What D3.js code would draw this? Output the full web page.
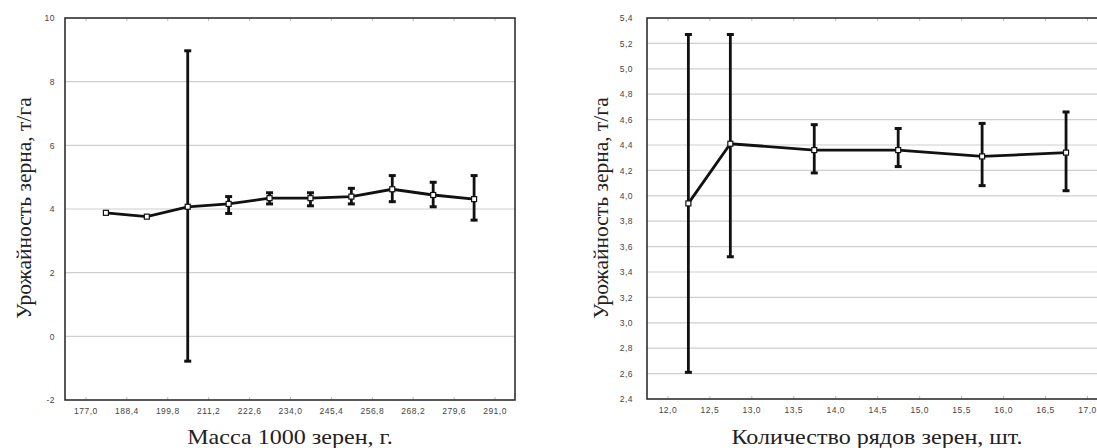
<!DOCTYPE html>
<html><head><meta charset="utf-8">
<script src="https://cdn.jsdelivr.net/npm/d3@7"></script>
<style>body{margin:0;background:#fff}svg{display:block}</style>
</head><body>
<svg id="c" width="1097" height="448"></svg>
<script>
// Chart 1: mass of 1000 grains
const massX = [182.7,194.1,205.5,216.9,228.3,239.7,251.1,262.5,273.9,285.3];
const massMean = [3.88,3.76,4.07,4.16,4.34,4.34,4.39,4.62,4.44,4.31];
const massHi = [null,null,8.97,4.39,4.51,4.51,4.65,5.05,4.84,5.05];
const massLo = [null,null,-0.78,3.86,4.16,4.10,4.16,4.23,4.07,3.65];
const massXTicks = [177.0,188.4,199.8,211.2,222.6,234.0,245.4,256.8,268.2,279.6,291.0];
const massYTicks = [-2,0,2,4,6,8,10];

// Chart 2: number of grain rows
const rowsX = [12.25,12.75,13.75,14.75,15.75,16.75];
const rowsMean = [3.94,4.41,4.36,4.36,4.31,4.34];
const rowsHi = [5.27,5.27,4.56,4.53,4.57,4.66];
const rowsLo = [2.61,3.52,4.18,4.23,4.08,4.04];
const rowsXTicks = [12.0,12.5,13.0,13.5,14.0,14.5,15.0,15.5,16.0,16.5,17.0];
const rowsYTicks = [2.4,2.6,2.8,3.0,3.2,3.4,3.6,3.8,4.0,4.2,4.4,4.6,4.8,5.0,5.2,5.4];

const yTitle = "Урожайность зерна, т/га";
const svg = d3.select("#c");
const fmt1 = d => d.toFixed(1).replace(".", ",");

function panel(o){
  const g = svg.append("g");
  const x = d3.scaleLinear().domain(o.xDomain).range([o.left, o.right]);
  const y = d3.scaleLinear().domain(o.yDomain).range([o.bottom, o.top]);
  // gridlines
  g.selectAll(".grid").data(o.yTicks.filter(v => v!==o.yDomain[0] && v!==o.yDomain[1])).join("line")
    .attr("x1", o.left).attr("x2", o.right).attr("y1", d=>y(d)).attr("y2", d=>y(d))
    .attr("stroke", "#cfcfcf").attr("stroke-width", 1.2);
  // axes
  const xa = g.append("g").attr("transform", `translate(0,${o.bottom})`)
    .call(d3.axisBottom(x).tickValues(o.xTicks).tickFormat(fmt1).tickSize(-3).tickPadding(8));
  const xt = g.append("g").attr("transform", `translate(0,${o.top})`)
    .call(d3.axisTop(x).tickValues(o.xTicks).tickFormat("").tickSize(-3));
  const ya = g.append("g").attr("transform", `translate(${o.left},0)`)
    .call(d3.axisLeft(y).tickValues(o.yTicks).tickFormat(o.yFmt).tickSize(0).tickPadding(o.yPad));
  [xa,xt,ya].forEach(a => {
    a.select(".domain").remove();
    a.selectAll(".tick line").attr("stroke", "#bbb");
    a.selectAll("text").attr("font-family", "Liberation Sans, Arial, sans-serif")
      .attr("font-size", 8.5).attr("fill", "#444").attr("letter-spacing", "0.5px");
  });
  // frame
  g.append("rect").attr("x", o.left).attr("y", o.top)
    .attr("width", o.right - o.left).attr("height", o.bottom - o.top)
    .attr("fill", "none").attr("stroke", "#222").attr("stroke-width", 1.5);
  // error bars
  const idx = o.xs.map((_, i) => i).filter(i => o.hi[i] != null);
  g.selectAll(".eb").data(idx).join("line")
    .attr("x1", i=>x(o.xs[i])).attr("x2", i=>x(o.xs[i]))
    .attr("y1", i=>y(o.hi[i])).attr("y2", i=>y(o.lo[i]))
    .attr("stroke", "#111").attr("stroke-width", 2.8);
  ["hi","lo"].forEach(k => {
    g.selectAll(".cap"+k).data(idx).join("line")
      .attr("x1", i=>x(o.xs[i])-3.5).attr("x2", i=>x(o.xs[i])+3.5)
      .attr("y1", i=>y(o[k][i])).attr("y2", i=>y(o[k][i]))
      .attr("stroke", "#111").attr("stroke-width", 3);
  });
  // line
  g.append("path").datum(o.xs.map((v,i)=>[v,o.mean[i]]))
    .attr("d", d3.line().x(d=>x(d[0])).y(d=>y(d[1])))
    .attr("fill", "none").attr("stroke", "#111").attr("stroke-width", 2.8);
  // markers
  g.selectAll(".pt").data(o.xs.map((v,i)=>[v,o.mean[i]])).join("rect")
    .attr("x", d=>x(d[0])-2.5).attr("y", d=>y(d[1])-2.5).attr("width", 5).attr("height", 5)
    .attr("fill", "#fff").attr("stroke", "#111").attr("stroke-width", 1.2);
  // titles
  g.append("text").attr("transform", `translate(${o.xTitleX},444) scale(1.12,1)`).attr("text-anchor", "middle")
    .attr("font-family", "Liberation Serif, Times New Roman, serif").attr("font-size", 21.5).attr("fill", "#222")
    .text(o.xTitle);
  g.append("text").attr("transform", `translate(${o.yTitleX},208) rotate(-90)`)
    .attr("text-anchor", "middle")
    .attr("font-family", "Liberation Serif, Times New Roman, serif").attr("font-size", 21.5).attr("fill", "#222")
    .text(yTitle);
}

panel({left:65, right:515, top:18, bottom:400,
  xDomain:[171.3,296.7], yDomain:[-2,10], xTicks:massXTicks, yTicks:massYTicks,
  yFmt: d=>String(d), xs:massX, mean:massMean, hi:massHi, lo:massLo, yPad:10,
  xTitle:"Масса 1000 зерен, г.", xTitleX:290, yTitleX:31});

panel({left:647, right:1108, top:18, bottom:399,
  xDomain:[11.757,17.25], yDomain:[2.4,5.4], xTicks:rowsXTicks, yTicks:rowsYTicks,
  yFmt: fmt1, xs:rowsX, mean:rowsMean, hi:rowsHi, lo:rowsLo, yPad:14,
  xTitle:"Количество рядов зерен, шт.", xTitleX:877, yTitleX:608});
</script>
</body></html>
